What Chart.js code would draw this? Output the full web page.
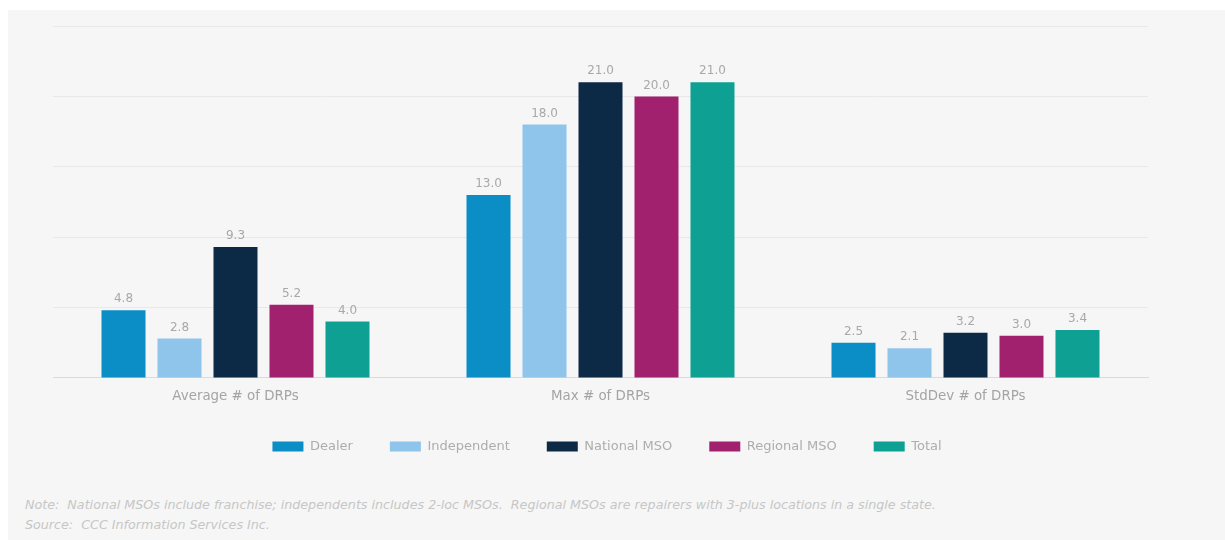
<!DOCTYPE html>
<html>
<head>
<meta charset="utf-8">
<script src="https://cdn.jsdelivr.net/npm/chart.js@4"></script>
<style>
  html, body { margin: 0; padding: 0; background: #ffffff; }
  body { width: 1225px; height: 540px; position: relative; overflow: hidden; font-family: "DejaVu Sans", sans-serif; }
  .panel { position: absolute; left: 8px; top: 10px; right: 0; bottom: 0; background: #f6f6f6; }
  .wrap { position: absolute; left: 0; top: 0; width: 1225px; height: 470px; }
  .note { position: absolute; left: 25px; font-size: 12.7px; font-style: italic; color: #c6c6c6; white-space: pre; }
</style>
</head>
<body>
<div class="panel"></div>
<div class="wrap"><canvas id="chart1"></canvas></div>
<div class="note" style="top:497px">Note:  National MSOs include franchise; independents includes 2-loc MSOs.  Regional MSOs are repairers with 3-plus locations in a single state.</div>
<div class="note" style="top:517px">Source:  CCC Information Services Inc.</div>
<script>
  // data
  const categories = ['Average # of DRPs', 'Max # of DRPs', 'StdDev # of DRPs'];
  const dealer = [4.8, 13.0, 2.5];
  const independent = [2.8, 18.0, 2.1];
  const nationalMSO = [9.3, 21.0, 3.2];
  const regionalMSO = [5.2, 20.0, 3.0];
  const total = [4.0, 21.0, 3.4];
  const yTicks = [0, 5, 10, 15, 20, 25];

  // value labels above each bar
  const valueLabels = {
      id: 'valueLabels',
      afterDatasetsDraw(chart) {
          const ctx = chart.ctx;
          ctx.save();
          ctx.font = '12px "DejaVu Sans"';
          ctx.fillStyle = '#a8a8a8';
          ctx.textAlign = 'center';
          ctx.textBaseline = 'bottom';
          chart.data.datasets.forEach((ds, i) => {
              chart.getDatasetMeta(i).data.forEach((bar, j) => {
                  ctx.fillText(ds.data[j].toFixed(1), bar.x, bar.y - 5);
              });
          });
          ctx.restore();
      }
  };

  // legend sits a few px right of centre in the original
  const legendShift = {
      id: 'legendShift',
      afterLayout(chart) {
          chart.legend.left += 13;
      }
  };

  const ctx1 = document.getElementById('chart1').getContext('2d');
  new Chart(ctx1, {
      type: 'bar',
      data: {
          labels: categories,
          datasets: [
              { label: 'Dealer', data: dealer, backgroundColor: '#0b8ec6' },
              { label: 'Independent', data: independent, backgroundColor: '#8fc5ea' },
              { label: 'National MSO', data: nationalMSO, backgroundColor: '#0c2946' },
              { label: 'Regional MSO', data: regionalMSO, backgroundColor: '#a2216f' },
              { label: 'Total', data: total, backgroundColor: '#0ea193' }
          ]
      },
      options: {
          responsive: true,
          maintainAspectRatio: false,
          animation: false,
          categoryPercentage: 0.767,
          barPercentage: 0.786,
          layout: { padding: { left: 53, right: 77, top: 26, bottom: 7 } },
          plugins: {
              tooltip: { enabled: false },
              legend: {
                  position: 'bottom',
                  labels: {
                      boxWidth: 31,
                      boxHeight: 10,
                      padding: 37,
                      color: '#adadad',
                      font: { family: '"DejaVu Sans"', size: 13 }
                  }
              }
          },
          scales: {
              x: {
                  grid: { display: false, drawTicks: false },
                  border: { color: '#d9dae0', width: 1 },
                  ticks: { color: '#a4a4a4', padding: 11, font: { family: '"DejaVu Sans"', size: 13.4 } },
                  afterFit(scale) { scale.height -= 13; }
              },
              y: {
                  min: yTicks[0],
                  max: yTicks[yTicks.length - 1],
                  afterBuildTicks(scale) { scale.ticks = yTicks.map(v => ({ value: v })); },
                  grid: { color: '#e8e8e8', drawTicks: false },
                  border: { display: false },
                  ticks: { display: false }
              }
          }
      },
      plugins: [valueLabels, legendShift]
  });
</script>
</body>
</html>
